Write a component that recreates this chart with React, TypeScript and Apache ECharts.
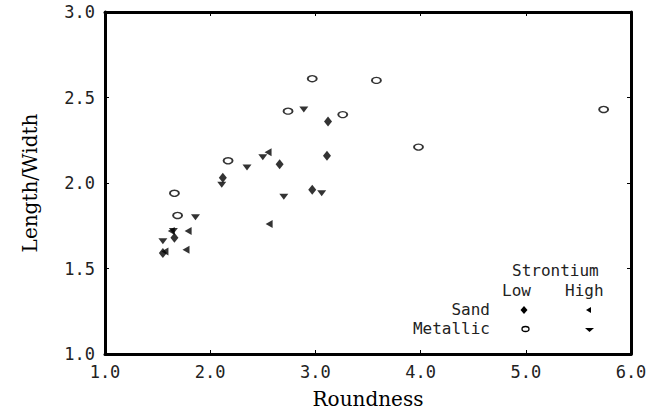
import React, { useEffect, useRef } from "react";
import * as echarts from "echarts";

// Data: [Roundness, Length/Width]
const sandLow: number[][] = [
  [3.12, 2.36], [3.11, 2.16], [2.66, 2.11], [2.12, 2.03], [2.97, 1.96],
  [1.66, 1.68], [1.55, 1.59],
];
const sandHigh: number[][] = [
  [2.55, 2.18], [2.56, 1.76], [1.79, 1.72], [1.77, 1.61], [1.57, 1.6], [1.63, 1.72],
];
const metallicLow: number[][] = [
  [2.97, 2.61], [3.58, 2.6], [2.74, 2.42], [3.26, 2.4], [2.17, 2.13],
  [1.66, 1.94], [1.69, 1.81], [5.74, 2.43], [3.98, 2.21],
];
const metallicHigh: number[][] = [
  [2.89, 2.43], [2.5, 2.15], [2.35, 2.09], [2.11, 1.99], [2.7, 1.92],
  [3.06, 1.94], [1.86, 1.8], [1.65, 1.72], [1.55, 1.66],
];

const xTicks = [1, 2, 3, 4, 5, 6];
const yTicks = [1, 1.5, 2, 2.5, 3];

const MONO = "'DejaVu Sans Mono', monospace";
const SERIF = "'DejaVu Serif', serif";

export default function App() {
  const ref = useRef<HTMLDivElement>(null);
  useEffect(() => {
    if (!ref.current) return;
    const chart = echarts.init(ref.current, undefined, { renderer: "svg" });
    const gridL = 105, gridR = 30, gridT = 12, gridB = 60;
    const baseAxis = {
      min: xTicks[0],
      max: xTicks[xTicks.length - 1],
      interval: 1,
    };
    const yBase = { min: yTicks[0], max: yTicks[yTicks.length - 1], interval: 0.5 };
    const lineStyle = { color: "#000", width: 3 };
    const tick = { show: true, inside: true, length: 4, lineStyle: { color: "#000", width: 1 } };
    const labelStyle = { color: "#222", fontFamily: MONO, fontSize: 17 };
    chart.setOption({
      animation: false,
      backgroundColor: "#fff",
      grid: { left: gridL, right: gridR, top: gridT, bottom: gridB, containLabel: false },
      xAxis: [
        {
          type: "value",
          ...baseAxis,
          position: "bottom",
          axisLine: { show: true, lineStyle },
          axisTick: tick,
          splitLine: { show: false },
          axisLabel: { ...labelStyle, margin: 9, formatter: (v: number) => v.toFixed(1) },
          name: "Roundness",
          nameLocation: "middle",
          nameGap: 35,
          nameTextStyle: { fontFamily: SERIF, fontSize: 20, color: "#000" },
        },
        {
          type: "value",
          ...baseAxis,
          position: "top",
          axisLine: { show: true, lineStyle },
          axisTick: tick,
          splitLine: { show: false },
          axisLabel: { show: false },
        },
      ],
      yAxis: [
        {
          type: "value",
          ...yBase,
          position: "left",
          axisLine: { show: true, lineStyle },
          axisTick: tick,
          splitLine: { show: false },
          axisLabel: { ...labelStyle, margin: 10, formatter: (v: number) => v.toFixed(1) },
          name: "Length/Width",
          nameLocation: "middle",
          nameGap: 65,
          nameTextStyle: { fontFamily: SERIF, fontSize: 20, color: "#000" },
        },
        {
          type: "value",
          ...yBase,
          position: "right",
          axisLine: { show: true, lineStyle },
          axisTick: tick,
          splitLine: { show: false },
          axisLabel: { show: false },
        },
      ],
      series: [
        {
          name: "Sand Low",
          type: "scatter",
          data: sandLow,
          symbol: "diamond",
          symbolSize: [8, 10],
          itemStyle: { color: "#000" },
        },
        {
          name: "Sand High",
          type: "scatter",
          data: sandHigh,
          symbol: "triangle",
          symbolSize: [8, 7],
          symbolRotate: 90,
          itemStyle: { color: "#000" },
        },
        {
          name: "Metallic Low",
          type: "scatter",
          data: metallicLow,
          symbol: "circle",
          symbolSize: [9, 6],
          itemStyle: { color: "#fff", borderColor: "#000", borderWidth: 1.6 },
        },
        {
          name: "Metallic High",
          type: "scatter",
          data: metallicHigh,
          symbol: "triangle",
          symbolSize: [9, 6],
          symbolRotate: 180,
          itemStyle: { color: "#000" },
        },
      ],
      graphic: [
        { type: "text", left: 512, top: 262, style: { text: "Strontium", font: `16px ${MONO}`, fill: "#222" } },
        { type: "text", left: 502, top: 282, style: { text: "Low", font: `16px ${MONO}`, fill: "#222" } },
        { type: "text", left: 565, top: 282, style: { text: "High", font: `16px ${MONO}`, fill: "#222" } },
        { type: "text", right: 171, top: 301, style: { text: "Sand", font: `16px ${MONO}`, fill: "#222", align: "right" } },
        { type: "text", right: 171, top: 320, style: { text: "Metallic", font: `16px ${MONO}`, fill: "#222", align: "right" } },
        { type: "polygon", shape: { points: [[524, 306], [527.5, 310], [524, 314], [520.5, 310]] }, style: { fill: "#000" } },
        { type: "polygon", shape: { points: [[586, 310], [591, 307], [591, 313]] }, style: { fill: "#000" } },
        { type: "ellipse", shape: { cx: 525.5, cy: 329, rx: 3.5, ry: 2.5 }, style: { fill: "#fff", stroke: "#000", lineWidth: 1.3 } },
        { type: "polygon", shape: { points: [[585, 328], [594, 328], [589.5, 332]] }, style: { fill: "#000" } },
      ],
    });
    return () => chart.dispose();
  }, []);
  return (
    <div
      ref={ref}
      style={{ position: "absolute", left: 0, top: 0, width: 661, height: 414 }}
    />
  );
}
